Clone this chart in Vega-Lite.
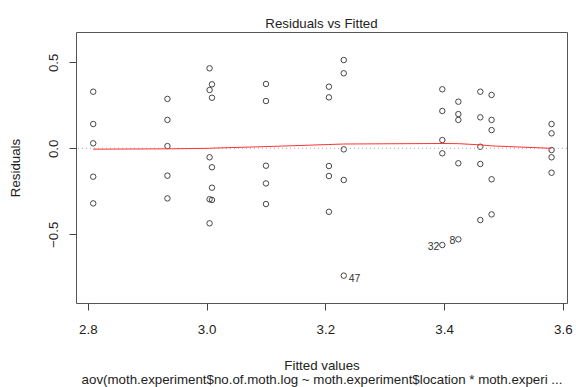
{
  "$schema": "https://vega.github.io/schema/vega-lite/v6.json",
  "width": 491,
  "height": 271,
  "autosize": {"type": "none"},
  "padding": {"left": 76, "top": 32, "right": 9, "bottom": 84},
  "background": "white",
  "config": {
    "font": "Liberation Sans",
    "view": {"stroke": "#555555", "strokeWidth": 1},
    "axis": {
      "grid": false,
      "domain": false,
      "tickColor": "#444444",
      "tickSize": 7,
      "labelFont": "Liberation Sans",
      "labelFontSize": 13.3,
      "labelColor": "#222222",
      "titleFont": "Liberation Sans",
      "titleFontSize": 13.3,
      "titleFontWeight": "normal",
      "titleColor": "#222222"
    }
  },
  "title": {
    "text": "Residuals vs Fitted",
    "fontSize": 13.3,
    "fontWeight": "normal",
    "color": "#222222",
    "font": "Liberation Sans",
    "anchor": "middle",
    "frame": "group",
    "offset": 2
  },
  "datasets": {
    "pts": [
      {"fitted": 2.809, "resid": 0.329}, {"fitted": 2.809, "resid": 0.141}, {"fitted": 2.809, "resid": 0.029}, {"fitted": 2.809, "resid": -0.165}, {"fitted": 2.809, "resid": -0.320},
      {"fitted": 2.934, "resid": 0.287}, {"fitted": 2.934, "resid": 0.165}, {"fitted": 2.934, "resid": 0.013}, {"fitted": 2.934, "resid": -0.159}, {"fitted": 2.934, "resid": -0.291},
      {"fitted": 3.005, "resid": 0.465}, {"fitted": 3.005, "resid": 0.339}, {"fitted": 3.005, "resid": -0.052}, {"fitted": 3.005, "resid": -0.296}, {"fitted": 3.005, "resid": -0.436},
      {"fitted": 3.009, "resid": 0.372}, {"fitted": 3.009, "resid": 0.294}, {"fitted": 3.009, "resid": -0.110}, {"fitted": 3.009, "resid": -0.229}, {"fitted": 3.009, "resid": -0.300},
      {"fitted": 3.100, "resid": 0.374}, {"fitted": 3.100, "resid": 0.275}, {"fitted": 3.100, "resid": -0.101}, {"fitted": 3.100, "resid": -0.204}, {"fitted": 3.100, "resid": -0.324},
      {"fitted": 3.206, "resid": 0.358}, {"fitted": 3.206, "resid": 0.296}, {"fitted": 3.206, "resid": -0.103}, {"fitted": 3.206, "resid": -0.161}, {"fitted": 3.206, "resid": -0.369},
      {"fitted": 3.231, "resid": 0.513}, {"fitted": 3.231, "resid": 0.436}, {"fitted": 3.231, "resid": -0.006}, {"fitted": 3.231, "resid": -0.184}, {"fitted": 3.231, "resid": -0.740, "label": "47"},
      {"fitted": 3.397, "resid": 0.343}, {"fitted": 3.397, "resid": 0.217}, {"fitted": 3.397, "resid": 0.048}, {"fitted": 3.397, "resid": -0.029}, {"fitted": 3.397, "resid": -0.562, "label": "32"},
      {"fitted": 3.424, "resid": 0.271}, {"fitted": 3.424, "resid": 0.199}, {"fitted": 3.424, "resid": 0.165}, {"fitted": 3.424, "resid": -0.087}, {"fitted": 3.424, "resid": -0.529, "label": "8"},
      {"fitted": 3.461, "resid": 0.329}, {"fitted": 3.461, "resid": 0.180}, {"fitted": 3.461, "resid": 0.009}, {"fitted": 3.461, "resid": -0.091}, {"fitted": 3.461, "resid": -0.417},
      {"fitted": 3.480, "resid": 0.310}, {"fitted": 3.480, "resid": 0.165}, {"fitted": 3.480, "resid": 0.106}, {"fitted": 3.480, "resid": -0.180}, {"fitted": 3.480, "resid": -0.384},
      {"fitted": 3.581, "resid": 0.141}, {"fitted": 3.581, "resid": 0.087}, {"fitted": 3.581, "resid": -0.010}, {"fitted": 3.581, "resid": -0.052}, {"fitted": 3.581, "resid": -0.142}
    ],
    "smooth": [
      {"fitted": 2.809, "resid": -0.005},
      {"fitted": 2.934, "resid": -0.003},
      {"fitted": 3.005, "resid": 0.0},
      {"fitted": 3.009, "resid": 0.001},
      {"fitted": 3.100, "resid": 0.010},
      {"fitted": 3.206, "resid": 0.022},
      {"fitted": 3.231, "resid": 0.025},
      {"fitted": 3.397, "resid": 0.028},
      {"fitted": 3.424, "resid": 0.027},
      {"fitted": 3.461, "resid": 0.020},
      {"fitted": 3.480, "resid": 0.014},
      {"fitted": 3.581, "resid": 0.0}
    ],
    "zero": [{"resid": 0}]
  },
  "layer": [
    {
      "data": {"name": "pts"},
      "mark": {"type": "point", "shape": "circle", "filled": false, "size": 30, "stroke": "#333333", "strokeWidth": 0.9, "opacity": 1},
      "encoding": {
        "x": {
          "field": "fitted", "type": "quantitative",
          "scale": {"domain": [2.78, 3.607], "nice": false, "zero": false},
          "axis": {
            "values": [2.8, 3.0, 3.2, 3.4, 3.6],
            "format": ".1f",
            "labelPadding": 12,
            "title": ["Fitted values", "aov(moth.experiment$no.of.moth.log ~ moth.experiment$location * moth.experi ..."],
            "titleLineHeight": 14,
            "titlePadding": 23
          }
        },
        "y": {
          "field": "resid", "type": "quantitative",
          "scale": {"domain": [-0.899, 0.676], "nice": false, "zero": false},
          "axis": {
            "values": [-0.5, 0.0, 0.5],
            "format": ".1f",
            "labelAngle": -90,
            "labelAlign": "center",
            "labelBaseline": "bottom",
            "labelPadding": 9,
            "title": "Residuals",
            "titlePadding": 24
          }
        }
      }
    },
    {
      "data": {"name": "zero"},
      "mark": {"type": "rule", "color": "#aaaaaa", "strokeDash": [1, 3], "strokeWidth": 1},
      "encoding": {"y": {"field": "resid", "type": "quantitative"}}
    },
    {
      "data": {"name": "smooth"},
      "mark": {"type": "line", "color": "#ff3333", "strokeWidth": 1},
      "encoding": {
        "x": {"field": "fitted", "type": "quantitative"},
        "y": {"field": "resid", "type": "quantitative"}
      }
    },
    {
      "data": {"name": "pts"},
      "transform": [{"filter": "datum.label == '47'"}],
      "mark": {"type": "text", "align": "left", "baseline": "middle", "dx": 5, "dy": 3, "fontSize": 10.5, "color": "#333333"},
      "encoding": {
        "x": {"field": "fitted", "type": "quantitative"},
        "y": {"field": "resid", "type": "quantitative"},
        "text": {"field": "label"}
      }
    },
    {
      "data": {"name": "pts"},
      "transform": [{"filter": "datum.label == '32' || datum.label == '8'"}],
      "mark": {"type": "text", "align": "right", "baseline": "middle", "dx": -3, "dy": 2, "fontSize": 10.5, "color": "#333333"},
      "encoding": {
        "x": {"field": "fitted", "type": "quantitative"},
        "y": {"field": "resid", "type": "quantitative"},
        "text": {"field": "label"}
      }
    }
  ]
}
